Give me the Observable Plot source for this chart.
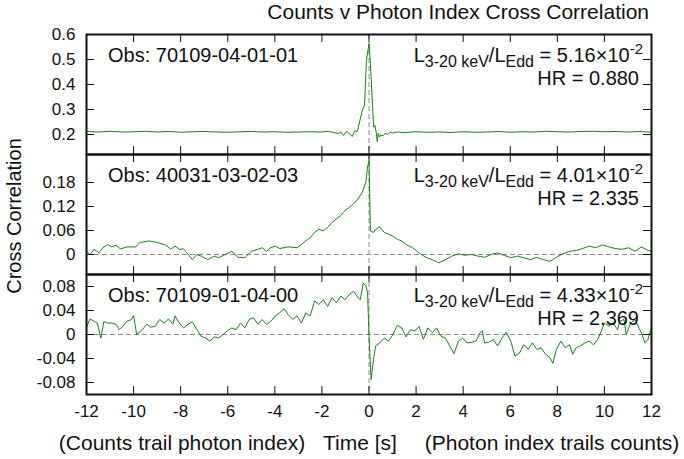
<!DOCTYPE html>
<html><head><meta charset="utf-8">
<script src="https://cdn.jsdelivr.net/npm/d3@7"></script>
<script src="https://cdn.jsdelivr.net/npm/@observablehq/plot@0.6"></script>
<style>
html,body{margin:0;padding:0;background:#fff;}
#chart{position:relative;width:684px;height:459px;font-family:"Liberation Sans",Arial,Helvetica,sans-serif;color:#111;overflow:hidden;background:#fff;}
.lbl{position:absolute;white-space:nowrap;font-size:21px;line-height:21px;}
</style></head><body><div id="chart"></div>
<script>
// ---------- data ----------
const xTicks = [-12,-10,-8,-6,-4,-2,0,2,4,6,8,10,12];

const obsIds = ["Obs: 70109-04-01-01","Obs: 40031-03-02-03","Obs: 70109-01-04-00"];
const lumVals = ["5.16","4.01","4.33"];
const hrVals = ["0.880","2.335","2.369"];

const yTicks1 = [0.2,0.3,0.4,0.5,0.6];
const yTicks2 = [0,0.06,0.12,0.18];
const yTicks3 = [-0.08,-0.04,0,0.04,0.08];

const t1 = [-12,-11.5,-11,-10.5,-10,-9.5,-9,-8.5,-8,-7.5,-7,-6.5,-6,-5.5,-5,-4.5,-4,-3.5,-3,-2.5,-2,
  -1.75,-1.5,-1.3,-1.2,-1.08,-0.95,-0.85,-0.71,-0.6,-0.5,-0.45,-0.29,-0.19,-0.11,0,
  0.06,0.14,0.2,0.25,0.31,0.35,0.39,0.45,0.5,0.6,0.7,0.8,0.9,1,1.2,1.5,
  2,2.5,3,3.5,4,4.5,5,5.5,6,6.5,7,7.5,8,8.5,9,9.5,10,10.5,11,11.5,12];
const v1 = [0.212,0.210,0.213,0.210,0.211,0.213,0.210,0.212,0.209,0.211,0.212,0.210,0.209,0.211,0.212,0.210,0.211,0.209,0.210,0.211,0.210,
  0.213,0.208,0.204,0.210,0.196,0.212,0.205,0.192,0.215,0.212,0.229,0.296,0.316,0.496,0.563,
  0.483,0.333,0.229,0.236,0.207,0.172,0.205,0.190,0.198,0.195,0.205,0.200,0.210,0.206,0.210,0.208,
  0.211,0.209,0.210,0.208,0.211,0.209,0.210,0.212,0.209,0.211,0.210,0.213,0.211,0.210,0.212,0.213,0.211,0.212,0.210,0.212,0.209];

const t2 = [-12,-11.85,-11.67,-11.48,-11.3,-11.11,-10.93,-10.74,-10.56,-10.28,
  -9.91,-9.72,-9.35,-8.98,-8.61,-8.43,-8.24,-8.06,-7.87,-7.5,
  -7.31,-7.13,-6.85,-6.57,-6.39,-6.11,-5.83,-5.56,-5.28,-5,
  -4.72,-4.54,-4.35,-4.17,-3.98,-3.8,-3.43,-3.06,-2.87,-2.69,
  -2.5,-2.31,-2.13,-1.94,-1.76,-1.57,-1.39,-1.2,-1.02,-0.83,
  -0.65,-0.46,-0.28,-0.13,-0.06,0,0.06,0.19,0.28,0.46,
  0.65,0.83,1.02,1.2,1.39,1.57,1.85,2.13,2.41,2.69,
  2.96,3.24,3.52,3.8,4.07,4.35,4.63,4.91,5.19,5.46,
  5.74,6.02,6.3,6.57,6.85,7.13,7.41,7.69,7.96,8.24,
  8.52,8.8,9.07,9.35,9.63,9.91,10.19,10.46,10.74,11.02,
  11.3,11.57,11.85,12];
const v2 = [0.008,0,0.013,0.004,0.017,0.025,0.019,0.023,0.014,0.019,
  0.019,0.030,0.034,0.030,0.023,0.013,0.021,0.013,0.014,-0.013,
  0,-0.004,-0.013,-0.004,-0.008,0,0.008,-0.007,-0.008,0.008,
  0.013,0.017,0.008,0.017,0.021,0.015,0.019,0.017,0.025,0.034,
  0.042,0.055,0.063,0.059,0.068,0.080,0.089,0.097,0.110,0.118,
  0.127,0.139,0.156,0.182,0.220,0.232,0.059,0.055,0.063,0.069,
  0.055,0.051,0.046,0.038,0.034,0.025,0.017,0.004,-0.007,-0.013,
  -0.021,-0.013,-0.004,0.002,-0.002,0,-0.004,-0.007,0,0.004,
  -0.002,-0.008,-0.004,-0.008,-0.013,-0.007,-0.013,-0.017,-0.007,0.002,
  0.008,0.010,0.015,0.021,0.017,0.024,0.019,0.015,0.013,0.017,
  0.008,0.019,0.010,0.008];

const t3 = [-12,-11.85,-11.67,-11.54,-11.39,-11.26,-11.11,-10.93,-10.74,-10.61,
  -10.46,-10.28,-10.09,-10,-9.87,-9.63,-9.44,-9.26,-9.07,-8.89,
  -8.7,-8.52,-8.33,-8.24,-8.06,-7.87,-7.69,-7.5,-7.31,-7.13,
  -6.94,-6.76,-6.57,-6.39,-6.2,-6.02,-5.83,-5.65,-5.46,-5.28,
  -5.09,-4.91,-4.72,-4.54,-4.35,-4.17,-3.98,-3.8,-3.61,-3.43,
  -3.24,-3.06,-2.87,-2.69,-2.5,-2.31,-2.13,-1.94,-1.76,-1.57,
  -1.39,-1.2,-1.02,-0.83,-0.65,-0.46,-0.37,-0.24,-0.13,-0.06,
  0,0.09,0.19,0.28,0.46,0.65,0.83,1.02,1.2,1.39,
  1.57,1.76,1.94,2.13,2.31,2.5,2.69,2.87,3.06,3.24,
  3.43,3.61,3.8,3.98,4.17,4.35,4.54,4.72,4.81,4.91,
  5.09,5.28,5.46,5.65,5.83,6.02,6.2,6.39,6.57,6.76,
  6.94,7.13,7.31,7.5,7.69,7.81,7.96,8.15,8.33,8.52,
  8.65,8.8,8.98,9.17,9.35,9.54,9.72,9.81,10,10.19,
  10.37,10.56,10.65,10.83,10.93,11.11,11.3,11.43,11.57,11.72,
  11.85,12];
const v3 = [0.012,0.026,0.022,0.019,-0.006,0.022,0.019,0.019,0.017,0.008,
  0.014,0.022,0.025,0.032,0,0.008,0.017,0.012,0.014,0.025,
  0.019,0.026,0.017,0.031,0.019,0.011,0.017,0.021,0.008,-0.003,
  -0.006,-0.011,-0.004,-0.006,0,0.006,0.011,0.008,0.019,0.011,
  0.025,0.028,0.017,0.025,0.017,0.022,0.031,0.036,0.043,0.033,
  0.025,0.031,0.019,0.036,0.031,0.056,0.050,0.058,0.047,0.061,
  0.053,0.064,0.058,0.067,0.072,0.061,0.058,0.086,0.081,0.069,
  -0.003,-0.075,-0.042,-0.019,-0.014,-0.006,-0.011,0,0.015,0.011,
  -0.004,0.008,0.006,0.013,-0.008,0.011,0.003,0.011,-0.003,-0.006,
  -0.019,-0.032,-0.011,-0.006,-0.014,-0.013,-0.011,0.003,0.006,-0.014,
  -0.013,-0.008,-0.019,-0.006,0.004,-0.011,-0.036,-0.031,-0.017,-0.025,
  -0.014,-0.025,-0.022,-0.033,-0.039,-0.048,-0.025,-0.011,-0.022,-0.017,
  -0.033,-0.022,-0.019,-0.014,-0.011,-0.017,-0.008,0,0.019,0.014,
  0.019,0.008,0.022,0.025,0,0.019,0.025,0.014,0.003,-0.014,
  -0.008,0.011];

// ---------- layout ----------
const FONT = "'Liberation Sans', Arial, Helvetica, sans-serif";
const W = 684, ML = 86, MR = 33, PH = 120, MT = 2;
const PW = W - ML - MR;
const panelTops = [34, 154, 274];
const domains = [[0.12, 0.6], [-0.05, 0.25], [-0.1, 0.1]];
const tickSets = [yTicks1, yTicks2, yTicks3];
const series = [[t1, v1], [t2, v2], [t3, v3]].map(([t, v]) => t.map((d, i) => ({t: d, v: v[i]})));
const GREEN = "#148614", DASH = "#8e8e8e";

const chart = document.getElementById("chart");

series.forEach((data, i) => {
  const last = i === 2;
  const MB = last ? 40 : 2;
  const ticks = tickSets[i];
  const marks = [
    Plot.ruleX([0], {stroke: DASH, strokeWidth: 1, strokeDasharray: "5,3"}),
    i > 0 ? Plot.ruleY([0], {stroke: DASH, strokeWidth: 1, strokeDasharray: "5,3"}) : null,
    Plot.line(data, {x: "t", y: "v", stroke: GREEN, strokeWidth: 1}),
    Plot.tickY(ticks, {y: d => d, insetRight: PW - 8, stroke: "#111", strokeWidth: 1}),
    Plot.tickY(ticks, {y: d => d, insetLeft: PW - 8, stroke: "#111", strokeWidth: 1}),
    Plot.tickX(xTicks, {x: d => d, insetBottom: PH - 8, stroke: "#111", strokeWidth: 1}),
    Plot.tickX(xTicks, {x: d => d, insetTop: PH - 8, stroke: "#111", strokeWidth: 1}),
    Plot.axisY({ticks, tickSize: 0, tickPadding: 11, tickFormat: d => String(d), label: null, fontSize: 17}),
    last ? Plot.axisX({ticks: xTicks, tickSize: 0, tickPadding: 10, tickFormat: d => String(d), label: null, fontSize: 17}) : null,
    Plot.frame({stroke: "#111", strokeWidth: 2})
  ].filter(Boolean);
  const p = Plot.plot({
    width: W, height: MT + PH + MB,
    marginLeft: ML, marginRight: MR, marginTop: MT, marginBottom: MB,
    x: {domain: [-12, 12], axis: last ? undefined : null},
    y: {domain: domains[i]},
    style: {position: "absolute", left: "0px", top: (panelTops[i] - MT) + "px", background: "transparent",
            fontFamily: FONT, fontSize: "17px", color: "#111", overflow: "visible"},
    marks
  });
  chart.appendChild(p);

  // in-panel annotations (plot area: x from ML to W-MR, top at MT)
  const L = ML, R = W - MR, T = MT;
  const g = d3.select(p).append("g").attr("font-family", FONT).attr("fill", "#111").style("white-space", "pre");
  g.append("text").attr("x", L + 22).attr("y", T + 28).attr("text-anchor", "start").attr("font-size", 20).text(obsIds[i]);
  const t = g.append("text").attr("x", R - 8).attr("y", T + 28).attr("text-anchor", "end").attr("font-size", 20);
  t.append("tspan").text("L");
  t.append("tspan").attr("font-size", 16).attr("dy", 5).text("3-20 keV");
  t.append("tspan").attr("dy", -5).text("/L");
  t.append("tspan").attr("font-size", 16).attr("dy", 5).text("Edd");
  t.append("tspan").attr("dy", -5).text(" = " + lumVals[i] + "\u00d710");
  t.append("tspan").attr("font-size", 15).attr("dy", -8).text("-2");
  g.append("text").attr("x", R - 12).attr("y", T + 51).attr("text-anchor", "end").attr("font-size", 20).text("HR = " + hrVals[i]);
});

// titles and axis labels
function label(text, css) {
  const d = document.createElement("div");
  d.className = "lbl";
  d.textContent = text;
  Object.assign(d.style, css);
  chart.appendChild(d);
  return d;
}
label("Counts v Photon Index Cross Correlation", {right: (W - 649) + "px", top: "1px"});
label("Cross Correlation", {left: "14px", top: "216px", fontSize: "20px", transform: "translate(-50%,-50%) rotate(-90deg)"});
label("(Counts trail photon index)", {left: "182px", top: "432px", transform: "translateX(-50%)"});
label("Time [s]", {left: "360px", top: "432px", transform: "translateX(-50%)"});
label("(Photon index trails counts)", {left: "552px", top: "432px", transform: "translateX(-50%)"});
</script></body></html>
